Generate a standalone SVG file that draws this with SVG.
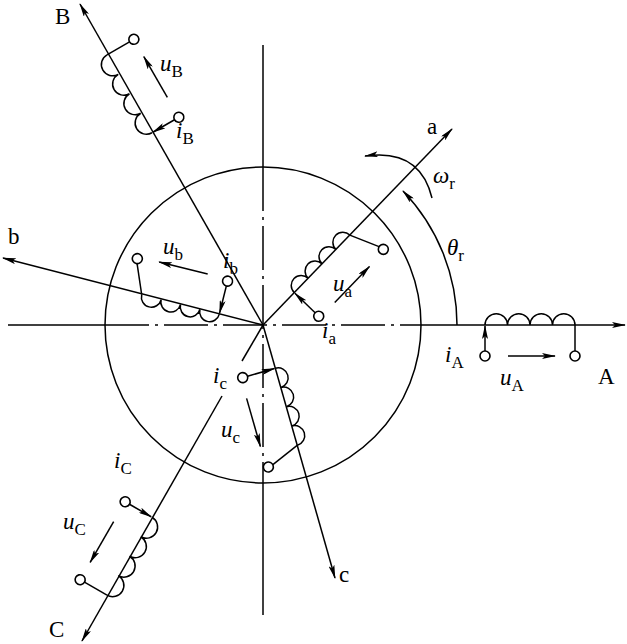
<svg xmlns="http://www.w3.org/2000/svg" width="627" height="644" viewBox="0 0 627 644">
<style>
.l{fill:none;stroke:#000;stroke-width:1.5}
.t{fill:#fff;stroke:#000;stroke-width:1.6}
.c{stroke-dasharray:44 6 3 6}
text{font-family:"Liberation Serif","Times New Roman",serif;font-size:23px;fill:#000}
.s{font-size:17px;font-style:normal}
.i{font-style:italic}
</style>
<defs>
<marker id="ar" viewBox="0 0 14 6" refX="13" refY="3" markerWidth="14" markerHeight="6" markerUnits="userSpaceOnUse" orient="auto"><path d="M0,0 L14,3 L0,6 L3,3 Z" fill="#000"/></marker>
<g id="inner" class="l">
<path d="M45,0 A10,10 0 0 1 65,0 A10,10 0 0 1 85,0 A10,10 0 0 1 105,0 A10,10 0 0 1 125,0"/>
<line x1="45" y1="29" x2="45" y2="1" marker-end="url(#ar)"/>
<line x1="125" y1="0" x2="137" y2="29"/>
<circle cx="45" cy="34" r="5" class="t"/>
<circle cx="138" cy="34" r="5" class="t"/>
<line x1="66" y1="36" x2="116" y2="36" marker-end="url(#ar)"/>
</g>
<g id="outer" class="l">
<path d="M222,0 A11.25,11.25 0 0 1 244.5,0 A11.25,11.25 0 0 1 267,0 A11.25,11.25 0 0 1 289.5,0 A11.25,11.25 0 0 1 312,0"/>
<line x1="222" y1="26" x2="222" y2="1" marker-end="url(#ar)"/>
<line x1="312" y1="0" x2="312" y2="26"/>
<circle cx="222" cy="31" r="5" class="t"/>
<circle cx="312" cy="31" r="5" class="t"/>
<line x1="245" y1="31" x2="292" y2="31" marker-end="url(#ar)"/>
</g>
</defs>
<g id="connectors" class="l">
<circle cx="263" cy="325" r="158"/>
<line x1="8" y1="325" x2="105" y2="325"/>
<line x1="105" y1="325" x2="421" y2="325" class="c"/>
<line x1="421" y1="325" x2="625" y2="325" marker-end="url(#ar)"/>
<line x1="263" y1="45" x2="263" y2="167"/>
<line x1="263" y1="167" x2="263" y2="483" class="c"/>
<line x1="263" y1="483" x2="263" y2="615"/>
<line x1="263" y1="325" x2="452" y2="129" marker-end="url(#ar)"/>
<line x1="263" y1="325" x2="3" y2="258" marker-end="url(#ar)"/>
<line x1="263" y1="325" x2="335" y2="578" marker-end="url(#ar)"/>
<line x1="263" y1="325" x2="80" y2="4" marker-end="url(#ar)"/>
<line x1="263" y1="325" x2="242" y2="361"/>
<line x1="222" y1="396" x2="82" y2="641" marker-end="url(#ar)"/>
<path d="M457,325 A194,194 0 0 0 403,191" marker-end="url(#ar)"/>
<path d="M432,198 Q420,148 365,156" marker-end="url(#ar)"/>
</g>
<g id="coilA"><use href="#outer" transform="translate(263,325)"/></g>
<g id="coilB"><use href="#outer" transform="translate(263,325) rotate(-120)"/></g>
<g id="coilC"><use href="#outer" transform="translate(263,325) rotate(-240)"/></g>
<g id="coila"><use href="#inner" transform="translate(263,325) rotate(-46)"/></g>
<g id="coilb"><use href="#inner" transform="translate(263,325) rotate(-166)"/></g>
<g id="coilc"><use href="#inner" transform="translate(263,325) rotate(74)"/></g>
<g id="labels">
<text x="598" y="384">A</text>
<text x="427" y="134">a</text>
<text x="55" y="24">B</text>
<text x="8" y="244">b</text>
<text x="339" y="582">c</text>
<text x="49" y="637">C</text>
<text x="500" y="385" class="i">u<tspan class="s" dy="6">A</tspan></text>
<text x="445" y="362" class="i">i<tspan class="s" dy="6">A</tspan></text>
<text x="333" y="291" class="i">u<tspan class="s" dy="6">a</tspan></text>
<text x="322" y="338" class="i">i<tspan class="s" dy="6">a</tspan></text>
<text x="163" y="254" class="i">u<tspan class="s" dy="6">b</tspan></text>
<text x="223" y="268" class="i">i<tspan class="s" dy="6">b</tspan></text>
<text x="160" y="71" class="i">u<tspan class="s" dy="6">B</tspan></text>
<text x="176" y="138" class="i">i<tspan class="s" dy="6">B</tspan></text>
<text x="213" y="383" class="i">i<tspan class="s" dy="6">c</tspan></text>
<text x="221" y="437" class="i">u<tspan class="s" dy="6">c</tspan></text>
<text x="114" y="468" class="i">i<tspan class="s" dy="6">C</tspan></text>
<text x="63" y="529" class="i">u<tspan class="s" dy="6">C</tspan></text>
<text x="433" y="183" class="i">ω<tspan class="s" dy="6">r</tspan></text>
<text x="447" y="255" class="i">θ<tspan class="s" dy="6">r</tspan></text>
</g>
</svg>
